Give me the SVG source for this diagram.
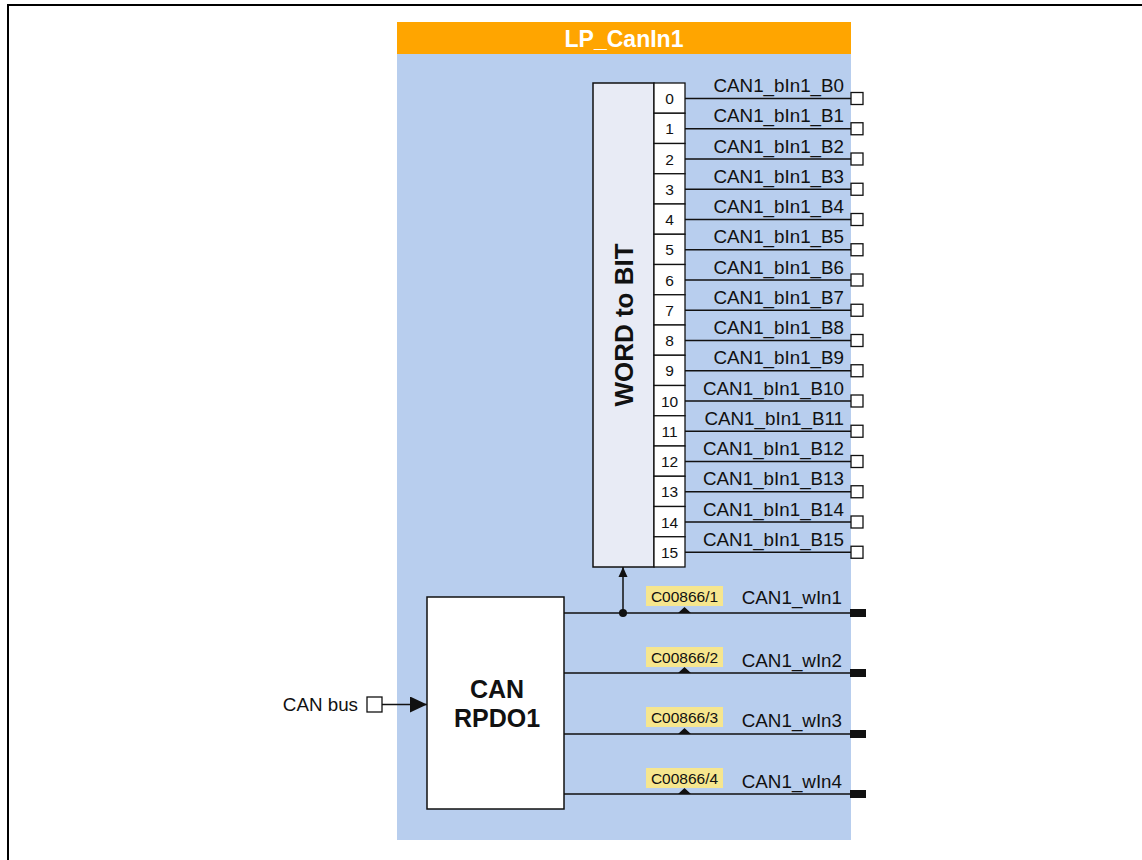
<svg xmlns="http://www.w3.org/2000/svg" width="1142" height="860" viewBox="0 0 1142 860">
<defs>
<style>
text{font-family:"Liberation Sans",Arial,sans-serif;fill:#111}
.lbl{font-size:18.8px;text-anchor:end}
.num{font-size:15.5px;text-anchor:middle}
.code{font-size:15.5px;text-anchor:middle}
.ln{stroke:#111;stroke-width:1.5;fill:none}
.sq{fill:#fff;stroke:#111;stroke-width:1.3}
.blk{fill:#111}
.cell{fill:#fff;stroke:#111;stroke-width:1.3}
.ybox{fill:#F6E68E}
</style>
<marker id="arr" markerWidth="17" markerHeight="16" refX="17" refY="8" orient="auto" markerUnits="userSpaceOnUse"><path d="M0,0 L17,8 L0,16 Z" fill="#111"/></marker>
<marker id="arrs" markerWidth="10" markerHeight="10" refX="10" refY="5" orient="auto" markerUnits="userSpaceOnUse"><path d="M0,0.5 L10,5 L0,9.5 Z" fill="#111"/></marker>
</defs>
<path d="M8,860 V5 H1142" fill="none" stroke="#000" stroke-width="2"/>
<g id="panel">
<rect x="397" y="54" width="454" height="786" fill="#B8CEEE"/>
<rect x="397" y="22" width="454" height="32" fill="#FFA500"/>
<text x="624" y="47" text-anchor="middle" font-size="23" font-weight="bold" style="fill:#fff">LP_CanIn1</text>
</g>
<g id="word2bit">
<rect x="593" y="83" width="61" height="484" fill="#E8EBF5" stroke="#111" stroke-width="1.5"/>
<text transform="translate(633,325) rotate(-90)" text-anchor="middle" font-size="26" font-weight="bold">WORD to BIT</text>
<g id="cells">
<rect class="cell" x="654" y="83" width="31" height="30.25"/><text class="num" x="669.5" y="104">0</text>
<rect class="cell" x="654" y="113.25" width="31" height="30.25"/><text class="num" x="669.5" y="134.25">1</text>
<rect class="cell" x="654" y="143.5" width="31" height="30.25"/><text class="num" x="669.5" y="164.5">2</text>
<rect class="cell" x="654" y="173.75" width="31" height="30.25"/><text class="num" x="669.5" y="194.75">3</text>
<rect class="cell" x="654" y="204" width="31" height="30.25"/><text class="num" x="669.5" y="225">4</text>
<rect class="cell" x="654" y="234.25" width="31" height="30.25"/><text class="num" x="669.5" y="255.25">5</text>
<rect class="cell" x="654" y="264.5" width="31" height="30.25"/><text class="num" x="669.5" y="285.5">6</text>
<rect class="cell" x="654" y="294.75" width="31" height="30.25"/><text class="num" x="669.5" y="315.75">7</text>
<rect class="cell" x="654" y="325" width="31" height="30.25"/><text class="num" x="669.5" y="346">8</text>
<rect class="cell" x="654" y="355.25" width="31" height="30.25"/><text class="num" x="669.5" y="376.25">9</text>
<rect class="cell" x="654" y="385.5" width="31" height="30.25"/><text class="num" x="669.5" y="406.5">10</text>
<rect class="cell" x="654" y="415.75" width="31" height="30.25"/><text class="num" x="669.5" y="436.75">11</text>
<rect class="cell" x="654" y="446" width="31" height="30.25"/><text class="num" x="669.5" y="467">12</text>
<rect class="cell" x="654" y="476.25" width="31" height="30.25"/><text class="num" x="669.5" y="497.25">13</text>
<rect class="cell" x="654" y="506.5" width="31" height="30.25"/><text class="num" x="669.5" y="527.5">14</text>
<rect class="cell" x="654" y="536.75" width="31" height="30.25"/><text class="num" x="669.5" y="557.75">15</text>
</g>
</g>
<g id="rpdo">
<rect x="427" y="597" width="137" height="212" fill="#fff" stroke="#111" stroke-width="1.5"/>
<text x="497" y="698" text-anchor="middle" font-size="25" font-weight="bold">CAN</text>
<text x="497" y="727" text-anchor="middle" font-size="25" font-weight="bold">RPDO1</text>
</g>
<g id="canbus">
<text x="358" y="711" font-size="18.8" text-anchor="end">CAN bus</text>
<rect class="sq" x="367" y="697" width="15" height="15"/>
</g>
<g id="connectors">
<path class="ln" d="M382,704.5 H427" marker-end="url(#arr)"/>
<g id="bits">
<path class="ln" d="M685,98.5 H851 M685,128.75 H851 M685,159 H851 M685,189.25 H851 M685,219.5 H851 M685,249.75 H851 M685,280 H851 M685,310.25 H851 M685,340.5 H851 M685,370.75 H851 M685,401 H851 M685,431.25 H851 M685,461.5 H851 M685,491.75 H851 M685,522 H851 M685,552.25 H851"/>
<rect class="sq" x="851" y="92.5" width="12" height="12"/>
<rect class="sq" x="851" y="122.75" width="12" height="12"/>
<rect class="sq" x="851" y="153" width="12" height="12"/>
<rect class="sq" x="851" y="183.25" width="12" height="12"/>
<rect class="sq" x="851" y="213.5" width="12" height="12"/>
<rect class="sq" x="851" y="243.75" width="12" height="12"/>
<rect class="sq" x="851" y="274" width="12" height="12"/>
<rect class="sq" x="851" y="304.25" width="12" height="12"/>
<rect class="sq" x="851" y="334.5" width="12" height="12"/>
<rect class="sq" x="851" y="364.75" width="12" height="12"/>
<rect class="sq" x="851" y="395" width="12" height="12"/>
<rect class="sq" x="851" y="425.25" width="12" height="12"/>
<rect class="sq" x="851" y="455.5" width="12" height="12"/>
<rect class="sq" x="851" y="485.75" width="12" height="12"/>
<rect class="sq" x="851" y="516" width="12" height="12"/>
<rect class="sq" x="851" y="546.25" width="12" height="12"/>
<text class="lbl" x="844" y="92">CAN1_bIn1_B0</text>
<text class="lbl" x="844" y="122.25">CAN1_bIn1_B1</text>
<text class="lbl" x="844" y="152.5">CAN1_bIn1_B2</text>
<text class="lbl" x="844" y="182.75">CAN1_bIn1_B3</text>
<text class="lbl" x="844" y="213">CAN1_bIn1_B4</text>
<text class="lbl" x="844" y="243.25">CAN1_bIn1_B5</text>
<text class="lbl" x="844" y="273.5">CAN1_bIn1_B6</text>
<text class="lbl" x="844" y="303.75">CAN1_bIn1_B7</text>
<text class="lbl" x="844" y="334">CAN1_bIn1_B8</text>
<text class="lbl" x="844" y="364.25">CAN1_bIn1_B9</text>
<text class="lbl" x="844" y="394.5">CAN1_bIn1_B10</text>
<text class="lbl" x="844" y="424.75">CAN1_bIn1_B11</text>
<text class="lbl" x="844" y="455">CAN1_bIn1_B12</text>
<text class="lbl" x="844" y="485.25">CAN1_bIn1_B13</text>
<text class="lbl" x="844" y="515.5">CAN1_bIn1_B14</text>
<text class="lbl" x="844" y="545.75">CAN1_bIn1_B15</text>
</g>
<g id="words">
<path class="ln" d="M564,613 H851 M564,673 H851 M564,734 H851 M564,794 H851"/>
<path class="ln" d="M623,613 V567" marker-end="url(#arrs)"/>
<circle cx="623" cy="613" r="4" class="blk"/>
<rect class="blk" x="850" y="609" width="16" height="8"/>
<rect class="blk" x="850" y="669" width="16" height="8"/>
<rect class="blk" x="850" y="730" width="16" height="8"/>
<rect class="blk" x="850" y="790" width="16" height="8"/>
<rect class="ybox" x="646" y="586" width="77" height="20"/><text class="code" x="684.5" y="602">C00866/1</text>
<rect class="ybox" x="646" y="647" width="77" height="20"/><text class="code" x="684.5" y="663">C00866/2</text>
<rect class="ybox" x="646" y="707" width="77" height="20"/><text class="code" x="684.5" y="723">C00866/3</text>
<rect class="ybox" x="646" y="768" width="77" height="20"/><text class="code" x="684.5" y="784">C00866/4</text>
<path class="blk" d="M678,613 L684.5,607 L691,613 Z M678,673 L684.5,667 L691,673 Z M678,734 L684.5,728 L691,734 Z M678,794 L684.5,788 L691,794 Z"/>
<text class="lbl" x="842" y="604">CAN1_wIn1</text>
<text class="lbl" x="842" y="667">CAN1_wIn2</text>
<text class="lbl" x="842" y="727">CAN1_wIn3</text>
<text class="lbl" x="842" y="788">CAN1_wIn4</text>
</g>
</g>
</svg>
